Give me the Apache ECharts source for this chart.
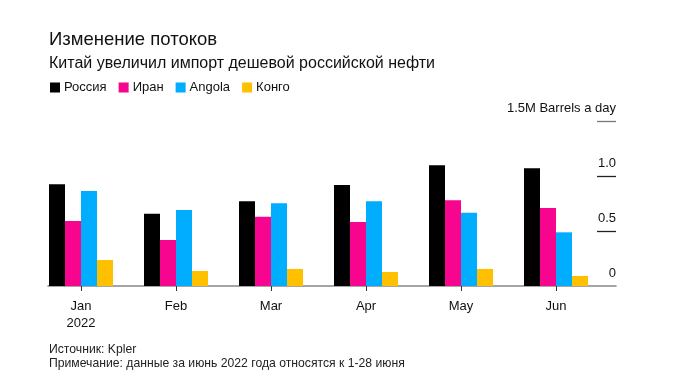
<!DOCTYPE html>
<html><head><meta charset="utf-8">
<script src="https://cdn.jsdelivr.net/npm/echarts@6/dist/echarts.min.js"></script>
<style>html,body{margin:0;padding:0;background:#fff}#c{width:675px;height:389px}</style>
</head><body><div id="c"></div>
<script>
const categories = ['Jan\n2022', 'Feb', 'Mar', 'Apr', 'May', 'Jun'];
const seriesNames = ['Россия', 'Иран', 'Angola', 'Конго'];
const russia = [0.925, 0.657, 0.77, 0.918, 1.097, 1.07];
const iran   = [0.59, 0.418, 0.63, 0.582, 0.779, 0.709];
const angola = [0.864, 0.691, 0.752, 0.77, 0.667, 0.488];
const congo  = [0.236, 0.136, 0.155, 0.127, 0.155, 0.091];
const colors = ['#000000', '#f7058f', '#00adff', '#ffc000'];
const yTicks = {0: '0', 0.5: '0.5', 1: '1.0', 1.5: '1.5M Barrels a day'};

const FONT = 'Liberation Sans, Arial, sans-serif';
const chart = echarts.init(document.getElementById('c'), null, {renderer: 'canvas'});
const dataSets = [russia, iran, angola, congo];
const gTop = 121, gBottom = 103;
chart.setOption({
  animation: false,
  textStyle: {fontFamily: FONT},
  title: [{
    text: 'Изменение потоков',
    subtext: 'Китай увеличил импорт дешевой российской нефти',
    left: 44, top: 25,
    itemGap: 7,
    textStyle: {fontFamily: FONT, fontSize: 18.5, fontWeight: 'normal', color: '#111'},
    subtextStyle: {fontFamily: FONT, fontSize: 16, color: '#111'}
  }, {
    text: 'Источник: Kpler\nПримечание: данные за июнь 2022 года относятся к 1-28 июня',
    left: 44, top: 338,
    textStyle: {fontFamily: FONT, fontSize: 12.2, fontWeight: 'normal', color: '#222', lineHeight: 14}
  }],
  legend: {
    left: 45, top: 76,
    icon: 'rect', itemWidth: 10, itemHeight: 10, itemGap: 12,
    textStyle: {fontFamily: FONT, fontSize: 13, color: '#111', padding: [0, 0, 0, -1]},
    data: seriesNames
  },
  grid: [
    {left: 33.5, right: 71.5, top: gTop, bottom: gBottom},
    {left: 48, right: 59, top: gTop, bottom: gBottom},
    {left: 597, right: 59, top: gTop, bottom: gBottom}
  ],
  xAxis: [
    {type: 'category', gridIndex: 0, data: categories,
     axisLine: {show: false},
     axisTick: {show: true, alignWithLabel: true, length: 5, lineStyle: {color: '#333'}},
     axisLabel: {fontFamily: FONT, fontSize: 13, color: '#111', margin: 12, lineHeight: 17}},
    {type: 'value', gridIndex: 1, min: 0, max: 1,
     axisLine: {show: true, lineStyle: {color: '#888', width: 1.5}},
     axisTick: {show: false}, axisLabel: {show: false}, splitLine: {show: false}},
    {type: 'value', gridIndex: 2, min: 0, max: 1, show: false}
  ],
  yAxis: [
    {type: 'value', gridIndex: 0, min: 0, max: 1.5, show: false},
    {type: 'value', gridIndex: 1, min: 0, max: 1.5, show: false},
    {type: 'value', gridIndex: 2, min: 0, max: 1.5, interval: 0.5, position: 'right',
     axisLine: {show: false}, axisTick: {show: false},
     splitLine: {show: true, lineStyle: {color: ['rgba(0,0,0,0)', '#222', '#222', '#777'], width: 1.3}},
     axisLabel: {inside: true, margin: 0, verticalAlign: 'bottom', padding: [0, 0, 6, 0],
       fontFamily: FONT, fontSize: 13, color: '#111',
       formatter: v => yTicks[v] !== undefined ? yTicks[v] : ''}}
  ],
  series: seriesNames.map((n, i) => ({
    name: n, type: 'bar', xAxisIndex: 0, yAxisIndex: 0,
    data: dataSets[i], barWidth: 16, barGap: '0%',
    itemStyle: {color: colors[i]}
  }))
});
</script></body></html>
